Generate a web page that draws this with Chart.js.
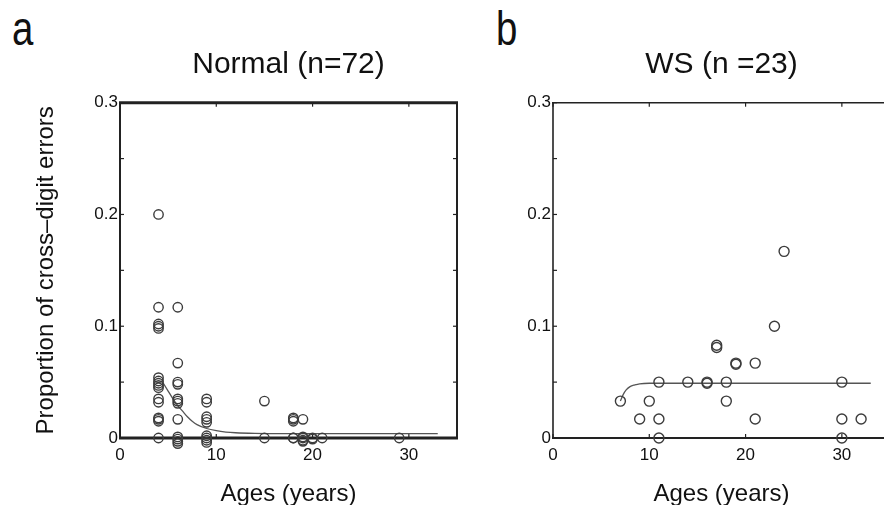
<!DOCTYPE html>
<html>
<head>
<meta charset="utf-8">
<title>Cross-digit errors by age</title>
<script src="https://cdn.jsdelivr.net/npm/chart.js@4.4.1/dist/chart.umd.min.js"></script>
<style>
  body { margin: 0; width: 884px; height: 505px; overflow: hidden; background: #fff; position: relative; }
  .panel { position: absolute; top: 0; }
  .tag { position: absolute; font-family: "Liberation Sans Narrow", "Liberation Sans", sans-serif;
         font-size: 48px; line-height: 1; color: #111; transform: scaleX(0.8); transform-origin: left top; }
</style>
</head>
<body>
<div class="tag" style="left:12px; top:5px;">a</div>
<div class="tag" style="left:496px; top:5px;">b</div>
<canvas id="normalChart" class="panel" style="left:0px;" width="470" height="505"></canvas>
<canvas id="wsChart" class="panel" style="left:470px;" width="430" height="505"></canvas>
<script>
// normal group, one entry per child (stacks are slightly spread)
const normalAges = [
  4, 4, 4, 4, 4, 4, 4, 4, 4, 4, 4, 4, 4, 4, 4, 4,
  6, 6, 6, 6, 6, 6, 6, 6, 6, 6, 6, 6,
  9, 9, 9, 9, 9, 9, 9, 9, 9,
  15, 15,
  18, 18, 18, 18, 18,
  19, 19, 19, 19, 19,
  20, 20, 21, 29
];
const normalErrors = [
  0.2, 0.117, 0.102, 0.1, 0.098, 0.054, 0.051, 0.049, 0.047, 0.045, 0.035, 0.032, 0.018, 0.0167, 0.015, 0,
  0.117, 0.067, 0.05, 0.048, 0.035, 0.033, 0.031, 0.0167, 0.001, -0.001, -0.003, -0.005,
  0.035, 0.032, 0.019, 0.0167, 0.014, 0.002, 0, -0.002, -0.004,
  0.033, 0,
  0.018, 0.0167, 0.015, 0, 0,
  0.0167, 0.001, 0, -0.002, -0.003,
  0, -0.001, 0, 0
];
const normalFitAges   = [4.5, 5, 5.5, 6, 6.5, 7, 7.5, 8, 9, 10, 11, 12, 14, 17, 25, 33];
const normalFitErrors = [0.049, 0.042, 0.035, 0.029, 0.024, 0.019, 0.015, 0.012, 0.0085, 0.0065, 0.0053, 0.0047, 0.0042, 0.004, 0.004, 0.004];

// Williams syndrome group
const wsAges = [7, 9, 10, 11, 11, 11, 14, 16, 16, 17, 17, 18, 18, 19, 19, 21, 21, 23, 24, 30, 30, 30, 32];
const wsErrors = [0.033, 0.017, 0.033, 0.05, 0.017, 0, 0.05, 0.05, 0.049, 0.083, 0.081, 0.05, 0.033,
                  0.067, 0.066, 0.067, 0.017, 0.1, 0.167, 0.05, 0.017, 0, 0.017];
const wsFitAges   = [7, 7.3, 7.6, 8, 8.5, 9, 10, 12, 20, 33];
const wsFitErrors = [0.033, 0.039, 0.043, 0.046, 0.0475, 0.0485, 0.049, 0.049, 0.049, 0.049];

const xTickValues = [0, 10, 20, 30];
const yTickValues = [0, 0.05, 0.1, 0.15, 0.2, 0.25, 0.3];
const yTickLabels = ['0', '', '0.1', '', '0.2', '', '0.3'];

const FONT = '"Liberation Sans", Arial, Helvetica, sans-serif';
const INK = '#111';

// box around the plot plus inward tick marks
const frameTicks = {
  id: 'frameTicks',
  beforeDatasetsDraw(chart, args, opts) {
    const ctx = chart.ctx;
    const a = chart.chartArea;
    const x = chart.scales.x, y = chart.scales.y;
    const s = opts.sides;
    ctx.save();
    ctx.strokeStyle = '#222';

    function seg(x1, y1, x2, y2, w) {
      if (!w) return;
      ctx.lineWidth = w;
      ctx.beginPath();
      ctx.moveTo(x1, y1);
      ctx.lineTo(x2, y2);
      ctx.stroke();
    }
    seg(a.left - 1, a.top, a.right + 1, a.top, s.top);
    seg(a.left - 1, a.bottom, a.right + 1, a.bottom, s.bottom);
    seg(a.left, a.top, a.left, a.bottom, s.left);
    seg(a.right, a.top, a.right, a.bottom, s.right);

    const len = 4;
    xTickValues.forEach(function(v) {
      const px = x.getPixelForValue(v);
      seg(px, a.bottom, px, a.bottom - len, s.bottom ? 1.2 : 0);
      seg(px, a.top, px, a.top + len, s.top ? 1.2 : 0);
    });
    yTickValues.forEach(function(v) {
      const py = y.getPixelForValue(v);
      seg(a.left, py, a.left + len, py, s.left ? 1.2 : 0);
      seg(a.right, py, a.right - len, py, s.right ? 1.2 : 0);
    });
    ctx.restore();
  }
};

function makePanel(id, title, ages, errors, fitAges, fitErrors, p) {
  const pts = ages.map(function(a, i) { return {x: a, y: errors[i]}; });
  const fit = fitAges.map(function(a, i) { return {x: a, y: fitErrors[i]}; });

  return new Chart(document.getElementById(id), {
    type: 'scatter',
    data: {
      datasets: [{
        data: pts,
        pointRadius: p.radius,
        pointBorderWidth: 1.4,
        borderColor: '#3c3c3c',
        backgroundColor: 'rgba(0,0,0,0)',
        clip: false
      }, {
        data: fit,
        showLine: true,
        pointRadius: 0,
        borderColor: '#555',
        borderWidth: 1.3,
        cubicInterpolationMode: 'monotone',
        clip: false
      }]
    },
    options: {
      responsive: false,
      animation: false,
      events: [],
      layout: { padding: { left: 0, right: p.right, top: 0, bottom: 0 } },
      plugins: {
        legend: { display: false },
        tooltip: { enabled: false },
        title: {
          display: true,
          text: title,
          fullSize: false,
          color: INK,
          font: { family: FONT, size: 30, weight: 'normal' },
          padding: { top: 46.6, bottom: 20.1 }
        },
        frameTicks: { sides: p.sides }
      },
      scales: {
        x: {
          type: 'linear',
          min: 0,
          max: 35,
          afterBuildTicks: function(scale) {
            scale.ticks = xTickValues.map(function(v) { return {value: v}; });
          },
          afterFit: function(scale) { scale.height = 67; },
          grid: { display: false, drawTicks: false },
          border: { display: false },
          ticks: { color: INK, padding: 7, font: { family: FONT, size: 17 } },
          title: {
            display: true,
            text: 'Ages (years)',
            color: INK,
            font: { family: FONT, size: 24 },
            padding: { top: 0, bottom: -4 }
          }
        },
        y: {
          type: 'linear',
          min: 0,
          max: 0.3,
          afterBuildTicks: function(scale) {
            scale.ticks = yTickValues.map(function(v) { return {value: v}; });
          },
          afterFit: function(scale) { scale.width = p.left; },
          grid: { display: false, drawTicks: false },
          border: { display: false },
          ticks: {
            color: INK,
            padding: 2,
            font: { family: FONT, size: 17 },
            callback: function(v, i) { return yTickLabels[i]; }
          },
          title: {
            display: p.yTitle,
            text: 'Proportion of cross\u2013digit errors',
            color: INK,
            font: { family: FONT, size: 24 },
            padding: { top: 31.6, bottom: 0 }
          }
        }
      }
    },
    plugins: [frameTicks]
  });
}

makePanel('normalChart', 'Normal (n=72)', normalAges, normalErrors, normalFitAges, normalFitErrors,
  { left: 120, right: 13, radius: 4.7, yTitle: true, sides: { top: 3, bottom: 3, left: 2, right: 2 } });

makePanel('wsChart', 'WS (n =23)', wsAges, wsErrors, wsFitAges, wsFitErrors,
  { left: 83, right: 10, radius: 5, yTitle: false, sides: { top: 1.6, bottom: 2, left: 1.6, right: 1.6 } });
</script>
</body>
</html>
